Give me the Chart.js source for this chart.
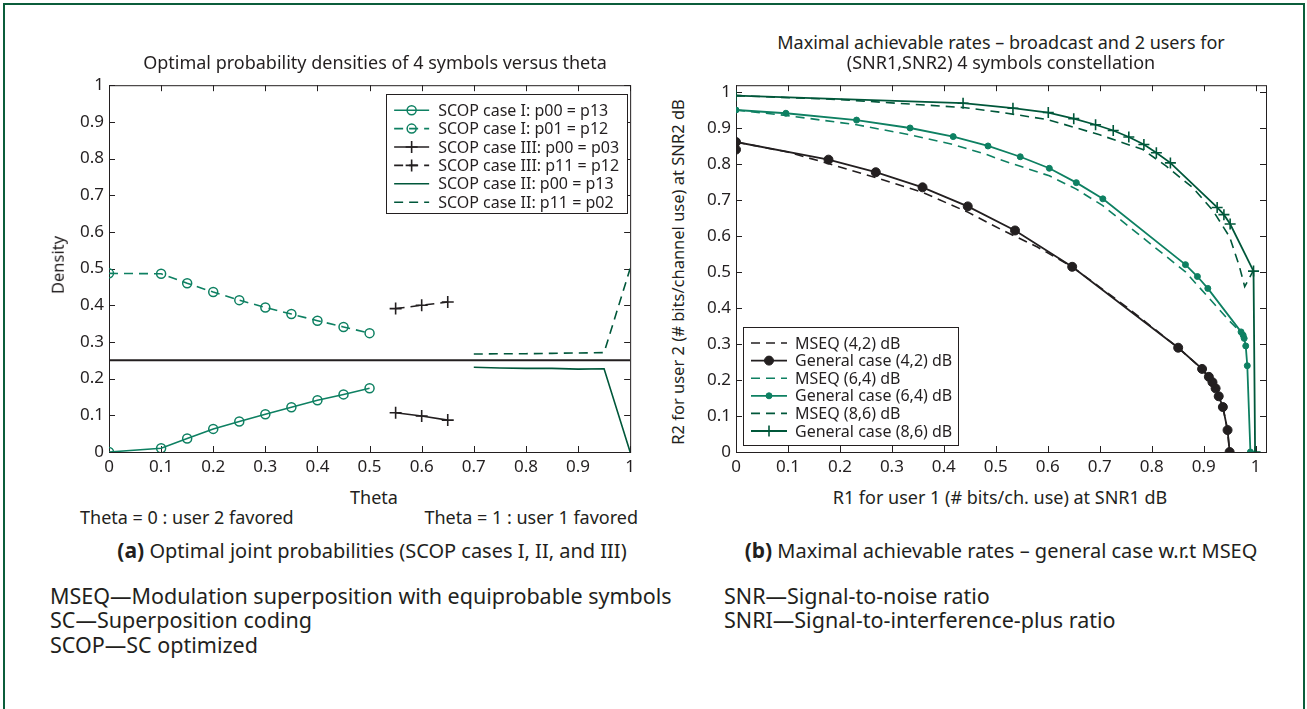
<!DOCTYPE html>
<html>
<head>
<meta charset="utf-8">
<script src="https://cdn.jsdelivr.net/npm/chart.js@4.4.0/dist/chart.umd.min.js"></script>
<style>
  body { margin: 0; background: #fff; font-family: 'Noto Sans', sans-serif; color: #231f20; overflow: hidden; }
  #frame { position: absolute; left: 3px; top: 3px; width: 1298px; height: 730px; border: 2.5px solid #0b5d3b; }
  .t { position: absolute; white-space: nowrap; line-height: 1; }
  .c { transform: translate(-50%, -50%); }
  .l { transform: translateY(-50%); }
  .r { transform: translate(-100%, -50%); }
  .rot { transform: translate(-50%, -50%) rotate(-90deg); }
  .ax { font-size: 18px; }
  .yt { font-size: 16.5px; }
  .cap { font-size: 20px; }
  .cap b { font-size: 21px; }
  .note { font-size: 21.5px; }
  canvas { position: absolute; }
</style>
</head>
<body>
<div id="frame"></div>

<canvas id="left" width="580" height="410" style="left:60px;top:70px"></canvas>
<canvas id="right" width="585" height="410" style="left:690px;top:70px"></canvas>

<div class="t c ax" style="left:375px;top:62px">Optimal probability densities of 4 symbols versus theta</div>
<div class="t rot yt" style="left:58px;top:265px">Density</div>
<div class="t c ax" style="left:374px;top:497px">Theta</div>
<div class="t l ax" style="left:80px;top:517px">Theta = 0 : user 2 favored</div>
<div class="t r ax" style="left:638px;top:517px">Theta = 1 : user 1 favored</div>
<div class="t c cap" style="left:372px;top:550px"><b>(a)</b> Optimal joint probabilities (SCOP cases I, II, and III)</div>

<div class="t c ax" style="left:1001px;top:42px">Maximal achievable rates – broadcast and 2 users for</div>
<div class="t c ax" style="left:1001px;top:62px">(SNR1,SNR2) 4 symbols constellation</div>
<div class="t rot yt" style="left:678px;top:272px">R2 for user 2 (# bits/channel use) at SNR2 dB</div>
<div class="t c ax" style="left:1000px;top:497px">R1 for user 1 (# bits/ch. use) at SNR1 dB</div>
<div class="t c cap" style="left:1001px;top:550px"><b>(b)</b> Maximal achievable rates – general case w.r.t MSEQ</div>

<div class="t l note" style="left:50px;top:596px">MSEQ—Modulation superposition with equiprobable symbols</div>
<div class="t l note" style="left:50px;top:620px">SC—Superposition coding</div>
<div class="t l note" style="left:50px;top:645px">SCOP—SC optimized</div>
<div class="t l note" style="left:724px;top:596px">SNR—Signal-to-noise ratio</div>
<div class="t l note" style="left:724px;top:620px">SNRI—Signal-to-interference-plus ratio</div>

<script>
// ---------- data: left panel (densities vs theta) ----------
const thetaI = [0, 0.1, 0.15, 0.2, 0.25, 0.3, 0.35, 0.4, 0.45, 0.5];
const caseI_p00 = [0, 0.01, 0.037, 0.063, 0.083, 0.103, 0.122, 0.141, 0.157, 0.174];
const caseI_p01 = [0.487, 0.486, 0.46, 0.436, 0.414, 0.394, 0.376, 0.358, 0.341, 0.324];
const thetaIII = [0.55, 0.6, 0.65];
const caseIII_p00 = [0.107, 0.098, 0.087];
const caseIII_p11 = [0.391, 0.4, 0.409];
const thetaII = [0.7, 0.75, 0.8, 0.85, 0.9, 0.95, 1];
const caseII_p00 = [0.231, 0.229, 0.228, 0.228, 0.226, 0.227, 0];
const caseII_p11 = [0.267, 0.268, 0.268, 0.269, 0.27, 0.271, 0.5];
const equiTheta = [0, 1];
const equiDensity = [0.25, 0.25];

// ---------- data: right panel (rate regions) ----------
const r1_mseq42 = [0, 0.1, 0.178, 0.269, 0.359, 0.446, 0.514, 0.58, 0.647, 0.75, 0.851, 0.897, 0.923, 0.937, 0.946, 0.95];
const r2_mseq42 = [0.862, 0.834, 0.802, 0.763, 0.722, 0.667, 0.616, 0.57, 0.515, 0.405, 0.29, 0.231, 0.177, 0.125, 0.061, 0];
const r1_gen42 = [0, 0, 0.178, 0.269, 0.359, 0.446, 0.537, 0.647, 0.851, 0.897, 0.91, 0.917, 0.923, 0.929, 0.937, 0.946, 0.95];
const r2_gen42 = [0.841, 0.862, 0.813, 0.778, 0.736, 0.683, 0.616, 0.515, 0.29, 0.231, 0.209, 0.194, 0.177, 0.155, 0.125, 0.061, 0];
const r1_mseq64 = [0, 0.096, 0.232, 0.335, 0.418, 0.485, 0.508, 0.603, 0.655, 0.706, 0.865, 0.95, 0.969];
const r2_mseq64 = [0.951, 0.936, 0.91, 0.882, 0.855, 0.826, 0.813, 0.768, 0.731, 0.685, 0.501, 0.364, 0.336];
const r1_gen64 = [0, 0.096, 0.232, 0.335, 0.418, 0.485, 0.547, 0.603, 0.655, 0.706, 0.865, 0.888, 0.908, 0.972, 0.976, 0.978, 0.981, 0.984, 0.99];
const r2_gen64 = [0.951, 0.942, 0.923, 0.901, 0.877, 0.851, 0.821, 0.789, 0.749, 0.704, 0.521, 0.488, 0.455, 0.334, 0.325, 0.316, 0.295, 0.24, 0];
const r1_mseq86 = [0, 0.2, 0.437, 0.508, 0.601, 0.7, 0.783, 0.828, 0.879, 0.918, 0.95, 0.969, 0.979, 0.995];
const r2_mseq86 = [0.991, 0.98, 0.958, 0.945, 0.924, 0.882, 0.841, 0.795, 0.735, 0.671, 0.598, 0.515, 0.46, 0.503];
const r1_gen86 = [0, 0.437, 0.533, 0.601, 0.65, 0.692, 0.726, 0.756, 0.785, 0.809, 0.836, 0.926, 0.939, 0.951, 0.996, 0.999];
const r2_gen86 = [0.991, 0.97, 0.956, 0.944, 0.927, 0.91, 0.894, 0.876, 0.855, 0.832, 0.804, 0.68, 0.66, 0.634, 0.503, 0];

// ---------- ticks ----------
const unitTicks = [0, 0.1, 0.2, 0.3, 0.4, 0.5, 0.6, 0.7, 0.8, 0.9, 1];
const unitTickLabels = ['0', '0.1', '0.2', '0.3', '0.4', '0.5', '0.6', '0.7', '0.8', '0.9', '1'];

const INK = '#231f20';
const TEAL = '#0e8062';
const DARK = '#00573a';
const FONT = "'Noto Sans', sans-serif";

function pts(xs, ys) {
  return xs.map((x, i) => ({ x, y: ys[i] }));
}

function series(label, xs, ys, color, opts = {}) {
  return Object.assign({
    label,
    data: pts(xs, ys),
    borderColor: color,
    backgroundColor: color,
    pointBorderColor: color,
    pointBackgroundColor: color,
    borderWidth: 1.6,
    pointRadius: 0,
    pointBorderWidth: 1.5,
    pointStyle: 'circle',
    borderDash: [],
    tension: 0,
    showLine: true
  }, opts);
}

// box with inward ticks on all four sides (matlab look)
const boxTicks = {
  id: 'boxTicks',
  beforeDatasetsDraw(chart) {
    const { ctx, chartArea: a, scales: { x, y } } = chart;
    ctx.save();
    ctx.strokeStyle = INK;
    ctx.lineWidth = 1;
    ctx.strokeRect(a.left + 0.5, a.top + 0.5, a.width, a.height);
    ctx.beginPath();
    x.ticks.forEach(t => {
      const px = Math.round(x.getPixelForValue(t.value)) + 0.5;
      ctx.moveTo(px, a.bottom); ctx.lineTo(px, a.bottom - 6);
      ctx.moveTo(px, a.top); ctx.lineTo(px, a.top + 6);
    });
    y.ticks.forEach(t => {
      const py = Math.round(y.getPixelForValue(t.value)) + 0.5;
      ctx.moveTo(a.left, py); ctx.lineTo(a.left + 6, py);
      ctx.moveTo(a.right, py); ctx.lineTo(a.right - 6, py);
    });
    ctx.stroke();
    ctx.restore();
  }
};

function drawMarker(ctx, ds, cx, cy) {
  const r = ds.pointRadius;
  if (!r) return;
  ctx.save();
  ctx.setLineDash([]);
  ctx.lineWidth = ds.pointBorderWidth;
  ctx.strokeStyle = ds.pointBorderColor;
  ctx.fillStyle = ds.pointBackgroundColor;
  ctx.beginPath();
  if (ds.pointStyle === 'cross') {
    ctx.moveTo(cx - r, cy); ctx.lineTo(cx + r, cy);
    ctx.moveTo(cx, cy - r); ctx.lineTo(cx, cy + r);
    ctx.stroke();
  } else {
    ctx.arc(cx, cy, r, 0, Math.PI * 2);
    ctx.fill();
    ctx.stroke();
  }
  ctx.restore();
}

// legend box drawn inside the plot area
const boxLegend = {
  id: 'boxLegend',
  afterDatasetsDraw(chart, args, o) {
    const { ctx, chartArea: a } = chart;
    const x0 = o.right != null ? a.right - o.right - o.width : a.left + o.left;
    const y0 = o.top != null ? a.top + o.top : a.bottom - o.bottom - o.height;
    ctx.save();
    ctx.fillStyle = '#fff';
    ctx.fillRect(x0, y0, o.width, o.height);
    ctx.strokeStyle = INK;
    ctx.lineWidth = 1;
    ctx.strokeRect(Math.round(x0) + 0.5, Math.round(y0) + 0.5, o.width, o.height);
    ctx.font = o.fontSize + 'px ' + FONT;
    ctx.textBaseline = 'middle';
    const items = chart.data.datasets.filter(d => !d.hideInLegend);
    items.forEach((ds, i) => {
      const cy = y0 + o.firstRow + i * o.rowH;
      const lx = x0 + o.sampleX;
      ctx.save();
      ctx.strokeStyle = ds.borderColor;
      ctx.lineWidth = ds.borderWidth;
      ctx.setLineDash(ds.borderDash || []);
      ctx.beginPath();
      ctx.moveTo(lx, cy); ctx.lineTo(lx + o.sampleW, cy);
      ctx.stroke();
      ctx.restore();
      drawMarker(ctx, ds, lx + o.sampleW / 2, cy);
      ctx.fillStyle = INK;
      ctx.fillText(ds.label, x0 + o.textX, cy + 1);
    });
    ctx.restore();
  }
};

function axis(ticks, labels, fitKey, fitVal) {
  return {
    type: 'linear',
    min: 0,
    max: 1,
    grid: { display: false, drawTicks: false },
    border: { display: false },
    afterBuildTicks: s => { s.ticks = ticks.map(v => ({ value: v })); },
    afterFit: s => { s[fitKey] = fitVal; },
    ticks: {
      color: INK,
      font: { family: FONT, size: 17 },
      padding: 5,
      maxRotation: 0,
      autoSkip: false,
      callback: v => labels[ticks.indexOf(v)] ?? ''
    }
  };
}

Chart.defaults.animation = false;

// ---------- left chart ----------
const leftX = axis(unitTicks, unitTickLabels, 'height', 28);
const leftY = axis(unitTicks, unitTickLabels, 'width', 49);

new Chart(document.getElementById('left'), {
  type: 'scatter',
  data: {
    datasets: [
      series('SCOP case I: p00 = p13', thetaI, caseI_p00, TEAL, { pointRadius: 4.5, pointBackgroundColor: 'rgba(0,0,0,0)' }),
      series('SCOP case I: p01 = p12', thetaI, caseI_p01, TEAL, { pointRadius: 4.5, pointBackgroundColor: 'rgba(0,0,0,0)', borderDash: [9, 6] }),
      series('SCOP case III: p00 = p03', thetaIII, caseIII_p00, INK, { pointRadius: 6, pointStyle: 'cross', pointBorderWidth: 1.6 }),
      series('SCOP case III: p11 = p12', thetaIII, caseIII_p11, INK, { pointRadius: 6, pointStyle: 'cross', pointBorderWidth: 1.6, borderDash: [9, 6] }),
      series('SCOP case II: p00 = p13', thetaII, caseII_p00, DARK),
      series('SCOP case II: p11 = p02', thetaII, caseII_p11, DARK, { borderDash: [9, 6] }),
      series('Equiprobable', equiTheta, equiDensity, INK, { borderWidth: 2, hideInLegend: true })
    ]
  },
  options: {
    responsive: false,
    layout: { padding: { left: 0, right: 6, top: 10, bottom: 0 } },
    scales: { x: leftX, y: leftY },
    plugins: {
      legend: { display: false },
      tooltip: { enabled: false },
      boxLegend: { right: 3, top: 9, width: 241, height: 119, firstRow: 16, rowH: 18.4, sampleX: 8, sampleW: 35, textX: 52, fontSize: 16 }
    }
  },
  plugins: [boxTicks, boxLegend]
});

// ---------- right chart ----------
const rightX = axis(unitTicks, unitTickLabels, 'height', 28);
const rightY = axis(unitTicks, unitTickLabels, 'width', 46);
rightX.max = 1.02;
rightY.max = 1.02;

new Chart(document.getElementById('right'), {
  type: 'scatter',
  data: {
    datasets: [
      series('MSEQ (4,2) dB', r1_mseq42, r2_mseq42, INK, { borderDash: [9, 6] }),
      series('General case (4,2) dB', r1_gen42, r2_gen42, INK, { pointRadius: 4.5, pointBorderWidth: 1, borderWidth: 1.8 }),
      series('MSEQ (6,4) dB', r1_mseq64, r2_mseq64, TEAL, { borderDash: [9, 6] }),
      series('General case (6,4) dB', r1_gen64, r2_gen64, TEAL, { pointRadius: 3, pointBorderWidth: 1, borderWidth: 1.8 }),
      series('MSEQ (8,6) dB', r1_mseq86, r2_mseq86, DARK, { borderDash: [9, 6] }),
      series('General case (8,6) dB', r1_gen86, r2_gen86, DARK, { pointRadius: 5.5, pointStyle: 'cross', pointBorderWidth: 1.6, borderWidth: 1.8 })
    ]
  },
  options: {
    responsive: false,
    layout: { padding: { left: 0, right: 9, top: 12, bottom: 0 } },
    scales: { x: rightX, y: rightY },
    plugins: {
      legend: { display: false },
      tooltip: { enabled: false },
      boxLegend: { left: 7, bottom: 7, width: 215, height: 118, firstRow: 16, rowH: 17.6, sampleX: 8, sampleW: 36, textX: 52, fontSize: 16 }
    }
  },
  plugins: [boxTicks, boxLegend]
});
</script>
</body>
</html>
